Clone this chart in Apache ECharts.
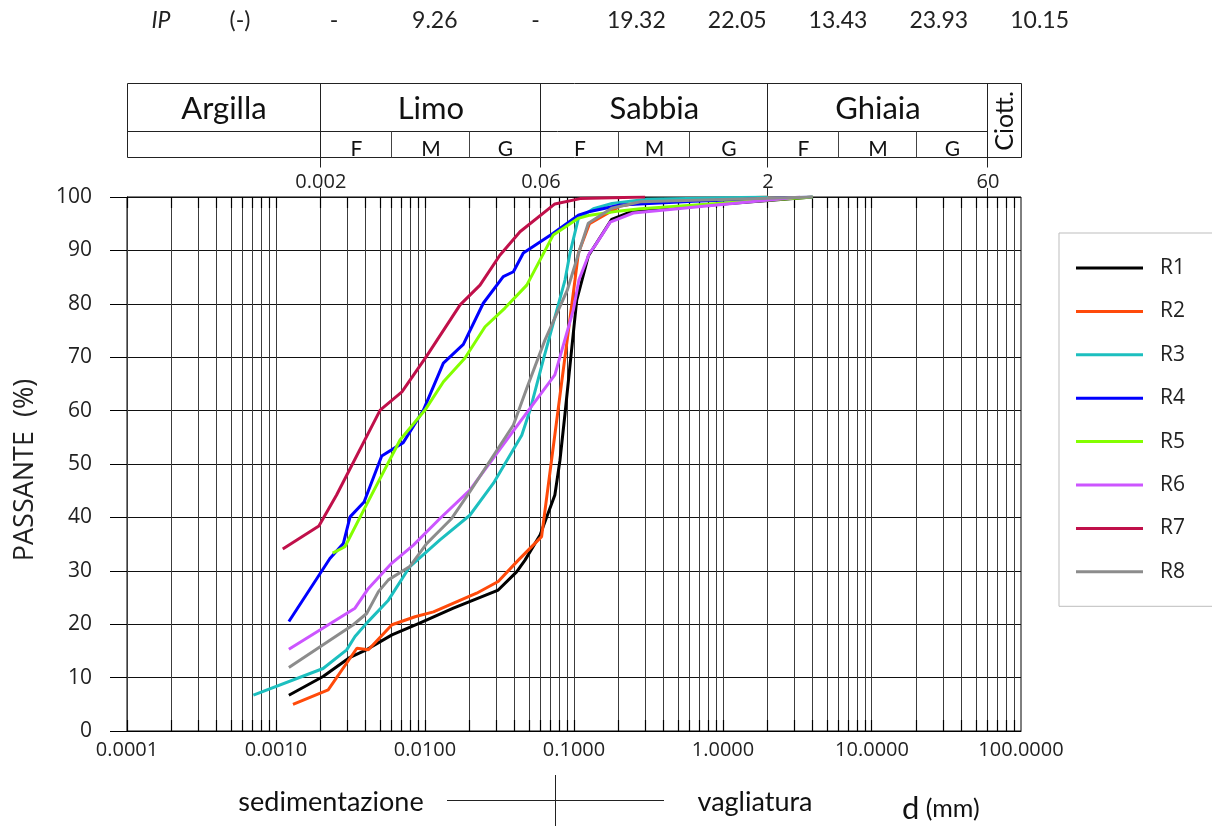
<!DOCTYPE html>
<html>
<head>
<meta charset="utf-8">
<script src="https://cdn.jsdelivr.net/npm/echarts@6.0.0/dist/echarts.min.js"></script>
<style>
  html, body { margin: 0; padding: 0; background: #ffffff; }
  #chart { width: 1212px; height: 826px; }
</style>
</head>
<body>
<div id="chart"></div>
<script>
// Curve granulometriche: diametro d (mm) -> passante (%)
const sampleNames = ['R1', 'R2', 'R3', 'R4', 'R5', 'R6', 'R7', 'R8'];
const sampleColors = ['#000000', '#ff4a0a', '#1cbfbf', '#0000ff', '#84ff00', '#cc55ff', '#c0104a', '#8c8c8c'];

// Indice di plasticità per campione
const ipValues = ['-', '9.26', '-', '19.32', '22.05', '13.43', '23.93', '10.15'];

const r1 = [[0.00122, 6.7], [0.00207, 10.2], [0.00314, 13.8], [0.0041, 15.3], [0.006, 18.0], [0.0092, 20.2],
  [0.0155, 23.0], [0.031, 26.4], [0.0412, 29.8], [0.0469, 32.0], [0.0592, 36.7], [0.0744, 44.2], [0.0805, 50.7],
  [0.0871, 59.5], [0.1043, 80.7], [0.125, 89.0], [0.179, 95.8], [0.25, 97.4], [4.0, 100]];
const r2 = [[0.0013, 5.0], [0.00224, 7.7], [0.00349, 15.5], [0.00417, 15.2], [0.006, 19.9], [0.00857, 21.4],
  [0.0114, 22.3], [0.0222, 25.8], [0.031, 28.0], [0.0423, 32.0], [0.0606, 36.4], [0.1016, 84.5], [0.107, 89.5],
  [0.127, 95.0], [0.179, 97.4], [0.204, 98.3], [0.308, 99.1], [2.0, 100]];
const r3 = [[0.000705, 6.7], [0.00207, 11.7], [0.00298, 15.2], [0.00339, 17.7], [0.00406, 20.2], [0.00568, 24.5],
  [0.00792, 30.8], [0.0126, 35.8], [0.02, 40.4], [0.0288, 46.4], [0.0446, 55.4], [0.0507, 60.1], [0.0622, 69.5],
  [0.0871, 84.5], [0.094, 89.5], [0.107, 96.0], [0.135, 97.8], [0.18, 98.8], [0.308, 99.6], [2.0, 100]];
const r4 = [[0.00122, 20.5], [0.0023, 32.3], [0.00283, 35.1], [0.00314, 40.1], [0.0039, 42.9], [0.00512, 51.5],
  [0.00714, 54.0], [0.00976, 60.1], [0.01328, 68.9], [0.01808, 72.4], [0.0246, 80.1], [0.0335, 85.1],
  [0.0392, 86.0], [0.0457, 89.5], [0.0726, 93.2], [0.107, 96.6], [0.128, 97.3], [0.204, 98.5], [0.632, 99.2], [4.0, 100]];
const r5 = [[0.0024, 33.3], [0.0029, 34.5], [0.0039, 41.5], [0.0068, 54.5], [0.01, 60.1], [0.0133, 65.4],
  [0.0185, 69.8], [0.0253, 75.7], [0.0344, 79.2], [0.0482, 83.5], [0.0726, 92.9], [0.107, 96.0], [0.128, 96.6],
  [0.204, 97.4], [0.279, 97.8], [4.0, 100]];
const r6 = [[0.00122, 15.3], [0.00339, 23.0], [0.00417, 26.7], [0.00597, 31.4], [0.00836, 34.8], [0.0126, 39.8],
  [0.02, 45.1], [0.0434, 57.9], [0.0744, 66.7], [0.0989, 78.8], [0.108, 84.5], [0.127, 89.5], [0.137, 90.7],
  [0.175, 95.3], [0.25, 97.0], [3.3, 100]];
const r7 = [[0.00111, 34.1], [0.00194, 38.4], [0.00255, 44.2], [0.005, 60.1], [0.007, 63.5], [0.0102, 70.1],
  [0.0172, 79.8], [0.0234, 83.5], [0.0318, 89.1], [0.0434, 93.5], [0.0744, 98.7], [0.11, 99.7], [0.3, 100]];
const r8 = [[0.00122, 11.9], [0.0033, 19.9], [0.00406, 22.0], [0.00487, 26.1], [0.00568, 28.3], [0.0079, 30.8],
  [0.01025, 35.1], [0.0126, 37.6], [0.0151, 39.8], [0.02, 44.8], [0.0392, 57.3], [0.0482, 64.2], [0.0638, 73.2],
  [0.09, 82.5], [0.11, 90.4], [0.1247, 95.1], [0.179, 97.9], [0.279, 99.1], [4.0, 100]];
const sampleData = [r1, r2, r3, r4, r5, r6, r7, r8];

// Classi granulometriche (limiti in mm)
const classBounds = [0.002, 0.06, 2, 60];
const classNames = ['Argilla', 'Limo', 'Sabbia', 'Ghiaia'];
const subBounds = [[0.002, 0.006, 0.02, 0.06], [0.06, 0.2, 0.6, 2], [2, 6, 20, 60]];
const subNames = ['F', 'M', 'G'];
const sieveLimit = 0.075;

const xMin = 0.0001, xMax = 100;

// Linee verticali della griglia logaritmica: 1..9 x 10^k
const logGridValues = [];
for (let k = -4; k < 2; k++) {
  for (let m = 1; m <= 9; m++) logGridValues.push([m * Math.pow(10, k), 0]);
}

const fontUI = '"Open Sans", "Noto Sans", sans-serif';
const fontTxt = 'Lato, "Open Sans", sans-serif';

const chart = echarts.init(document.getElementById('chart'), null, { renderer: 'canvas' });

const lineSeries = sampleNames.map((name, i) => ({
  name: name,
  type: 'line',
  data: sampleData[i],
  symbol: 'none',
  showSymbol: false,
  smooth: false,
  z: 4,
  color: sampleColors[i],
  lineStyle: { color: sampleColors[i], width: 3 },
  emphasis: { disabled: true }
}));

const crisp = x => Math.round(x - 0.5) + 0.5;

const gridSeries = {
  type: 'custom',
  silent: true,
  z: 1,
  data: logGridValues,
  encode: { x: 0, y: 1 },
  renderItem: function (params, api) {
    const top = api.coord([api.value(0), 100]);
    const bot = api.coord([api.value(0), 0]);
    const x = crisp(top[0]);
    return {
      type: 'group',
      children: [
        { type: 'line', shape: { x1: x, y1: top[1], x2: x, y2: bot[1] }, style: { stroke: '#3c3c3c', lineWidth: 1 } },
        { type: 'line', shape: { x1: x, y1: top[1], x2: x, y2: top[1] + 11 }, style: { stroke: '#000000', lineWidth: 1.2 } },
        { type: 'line', shape: { x1: x, y1: bot[1] - 11, x2: x, y2: bot[1] }, style: { stroke: '#000000', lineWidth: 1.2 } }
      ]
    };
  }
};

chart.setOption({
  animation: false,
  backgroundColor: '#ffffff',
  grid: { left: 127, top: 197, right: 191, bottom: 95, show: true, borderColor: '#000000', borderWidth: 1, backgroundColor: 'transparent' },
  xAxis: {
    type: 'log',
    logBase: 10,
    min: xMin,
    max: xMax,
    axisLine: { show: true, lineStyle: { color: '#000000', width: 1 } },
    axisTick: { show: false },
    splitLine: { show: false },
    axisLabel: {
      margin: 9,
      fontSize: 20,
      color: '#222222',
      fontFamily: fontUI,
      formatter: v => Number(v).toFixed(4)
    }
  },
  yAxis: {
    type: 'value',
    min: 0,
    max: 100,
    interval: 10,
    axisLine: { show: true, lineStyle: { color: '#000000', width: 1 } },
    axisTick: { show: true, inside: false, length: 17, lineStyle: { color: '#000000' } },
    splitLine: { show: true, lineStyle: { color: '#111111', width: 1.2 } },
    axisLabel: { margin: 35, fontSize: 21, color: '#222222', fontFamily: fontUI }
  },
  legend: {
    data: sampleNames,
    orient: 'vertical',
    left: 1059,
    top: 233,
    icon: 'rect',
    itemWidth: 67,
    itemHeight: 3,
    itemGap: 22.4,
    padding: [24.5, 29, 24, 17],
    borderColor: '#bdbdbd',
    borderWidth: 1,
    selectedMode: false,
    textStyle: { fontSize: 21, color: '#222222', fontFamily: fontUI, padding: [0, 0, 0, 12] }
  },
  series: [gridSeries].concat(lineSeries)
});

// Tabella delle classi, intestazione IP e didascalie, posizionate sulla scala dell'asse x
function buildOverlay() {
  const px = v => chart.convertToPixel({ xAxisIndex: 0 }, v);
  const xL = crisp(px(xMin)), xR = crisp(px(xMax));
  const tTop = 83.5, tMid = 131.5, tBot = 157.5, plotTop = 197;
  const stroke = '#222222';
  const g = [];

  // bordo della tabella
  g.push({ type: 'rect', shape: { x: xL, y: tTop, width: xR - xL, height: tBot - tTop }, style: { fill: null, stroke: stroke, lineWidth: 1 } });
  // riga intermedia (fino alla colonna dei ciottoli)
  g.push({ type: 'line', shape: { x1: xL, y1: tMid, x2: crisp(px(classBounds[3])), y2: tMid }, style: { stroke: stroke, lineWidth: 1 } });

  // limiti delle classi principali
  classBounds.forEach(b => {
    const x = crisp(px(b));
    g.push({ type: 'line', shape: { x1: x, y1: tTop, x2: x, y2: tBot + 10 }, style: { stroke: stroke, lineWidth: 1 } });
    g.push({ type: 'line', shape: { x1: x, y1: 188, x2: x, y2: plotTop }, style: { stroke: stroke, lineWidth: 1 } });
    g.push({ type: 'text', x: px(b), y: 182, style: { text: String(b), fontSize: 20, fontFamily: fontUI, fill: '#222222', align: 'center', verticalAlign: 'middle' } });
  });

  // nomi delle classi
  const classEdges = [xMin].concat(classBounds);
  classNames.forEach((name, i) => {
    const cx = (px(classEdges[i]) + px(classEdges[i + 1])) / 2;
    g.push({ type: 'text', x: cx, y: 109, style: { text: name, fontSize: 31, fontFamily: fontTxt, fill: '#111111', align: 'center', verticalAlign: 'middle' } });
  });

  // sottoclassi F / M / G
  subBounds.forEach(edges => {
    edges.slice(1, 3).forEach(s => {
      const x = crisp(px(s));
      g.push({ type: 'line', shape: { x1: x, y1: tMid, x2: x, y2: tBot }, style: { stroke: '#444444', lineWidth: 1 } });
    });
    subNames.forEach((name, j) => {
      const cx = (px(edges[j]) + px(edges[j + 1])) / 2;
      g.push({ type: 'text', x: cx, y: 149, style: { text: name, fontSize: 21, fontFamily: fontTxt, fill: '#111111', align: 'center', verticalAlign: 'middle' } });
    });
  });

  // colonna dei ciottoli
  g.push({
    type: 'text', x: (px(classBounds[3]) + px(xMax)) / 2, y: 121, rotation: Math.PI / 2,
    style: { text: 'Ciott.', fontSize: 25, fontFamily: fontTxt, fill: '#111111', align: 'center', verticalAlign: 'middle' }
  });

  // riga IP
  g.push({ type: 'text', x: 161, y: 21, style: { text: 'IP', fontSize: 23, fontStyle: 'italic', fontFamily: fontTxt, fill: '#222222', align: 'center', verticalAlign: 'middle' } });
  g.push({ type: 'text', x: 240, y: 21, style: { text: '(-)', fontSize: 23, fontFamily: fontTxt, fill: '#222222', align: 'center', verticalAlign: 'middle' } });
  ipValues.forEach((v, i) => {
    g.push({ type: 'text', x: 334 + i * 100.8, y: 21, style: { text: v, fontSize: 23, fontFamily: fontTxt, fill: '#222222', align: 'center', verticalAlign: 'middle' } });
  });

  // titolo dell'asse y
  g.push({
    type: 'text', x: 25, y: 470, rotation: Math.PI / 2,
    style: { text: 'PASSANTE  (%)', fontSize: 27, fontFamily: fontUI, fill: '#222222', align: 'center', verticalAlign: 'middle' }
  });

  // sedimentazione / vagliatura
  const xs = crisp(px(sieveLimit));
  g.push({ type: 'line', shape: { x1: 447, y1: 800.5, x2: 664, y2: 800.5 }, style: { stroke: '#222222', lineWidth: 1 } });
  g.push({ type: 'line', shape: { x1: xs, y1: 775, x2: xs, y2: 826 }, style: { stroke: '#222222', lineWidth: 1 } });
  g.push({ type: 'text', x: 331, y: 802, style: { text: 'sedimentazione', fontSize: 27, fontFamily: fontTxt, fill: '#111111', align: 'center', verticalAlign: 'middle' } });
  g.push({ type: 'text', x: 755, y: 802, style: { text: 'vagliatura', fontSize: 27, fontFamily: fontTxt, fill: '#111111', align: 'center', verticalAlign: 'middle' } });
  g.push({
    type: 'text', x: 902, y: 824,
    style: {
      text: '{d|d}{u| (mm)}', fontFamily: fontTxt, fill: '#111111', align: 'left', verticalAlign: 'bottom',
      rich: { d: { fontSize: 31, fontFamily: fontTxt, fill: '#111111' }, u: { fontSize: 25, fontFamily: fontTxt, fill: '#111111' } }
    }
  });

  chart.setOption({ graphic: { elements: g } });
}

buildOverlay();
</script>
</body>
</html>
